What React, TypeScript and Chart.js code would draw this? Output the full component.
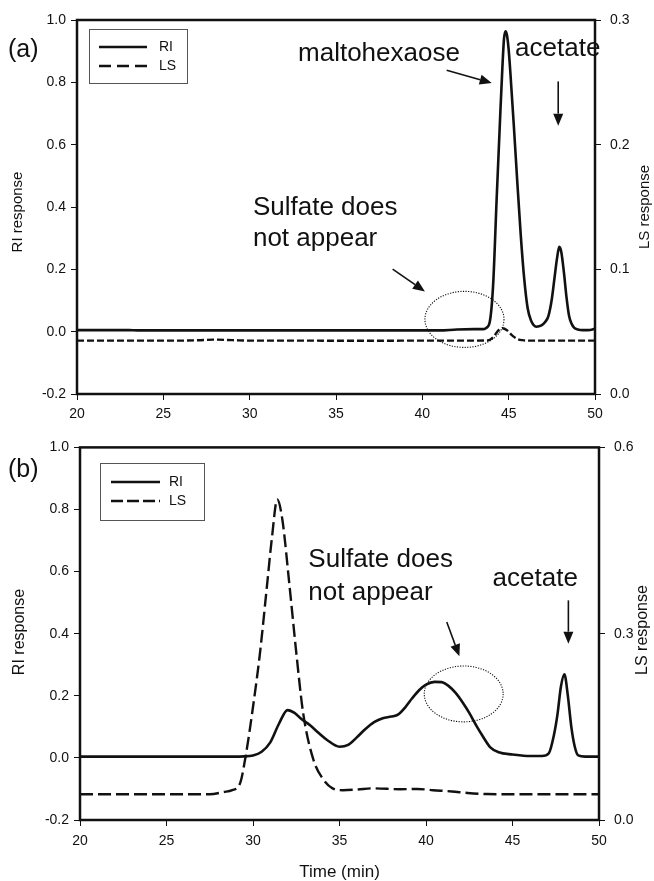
import { useEffect, useRef } from "react";
import { Chart, registerables } from "chart.js";

Chart.register(...registerables);

const FONT = "'Liberation Sans', Arial, Helvetica, sans-serif";

// ---------------- Data: panel (a) ----------------
const timeA_RI = [20, 22, 23, 23.5, 24, 26, 28, 30, 32, 34, 36, 38, 40, 41, 42, 43, 43.5, 43.7, 43.9, 44.1, 44.3, 44.5, 44.63, 44.73, 44.82, 44.9, 45.0, 45.1, 45.3, 45.5, 45.7, 45.9, 46.1, 46.3, 46.6, 46.9, 47.1, 47.3, 47.5, 47.65, 47.8, 47.93, 48.05, 48.2, 48.35, 48.5, 48.65, 48.8, 49.0, 49.3, 49.6, 49.85, 50];
const riA = [0.005, 0.005, 0.005, 0.004, 0.004, 0.004, 0.004, 0.004, 0.004, 0.004, 0.004, 0.004, 0.004, 0.004, 0.007, 0.008, 0.008, 0.012, 0.03, 0.15, 0.42, 0.68, 0.84, 0.94, 0.964, 0.952, 0.905, 0.83, 0.66, 0.48, 0.31, 0.17, 0.075, 0.035, 0.016, 0.02, 0.03, 0.05, 0.105, 0.17, 0.235, 0.272, 0.255, 0.19, 0.11, 0.05, 0.025, 0.012, 0.007, 0.005, 0.005, 0.007, 0.01];
const timeA_LS = [20, 24, 26, 27, 28, 29, 30, 33, 36, 40, 43, 43.8, 44.1, 44.4, 44.65, 44.9, 45.2, 45.5, 45.8, 46.3, 48, 50];
const lsA = [0.0428, 0.0428, 0.0428, 0.0431, 0.0436, 0.0432, 0.0428, 0.0428, 0.0427, 0.0428, 0.0428, 0.043, 0.0455, 0.051, 0.0528, 0.0512, 0.047, 0.0442, 0.0432, 0.0428, 0.0428, 0.0428];

// ---------------- Data: panel (b) ----------------
const timeB_RI = [20, 24, 28, 29.5, 30, 30.5, 31, 31.5, 32, 32.4, 32.8, 33.3, 33.8, 34.3, 35, 35.5, 36, 36.5, 37, 37.5, 38, 38.4, 38.8, 39.2, 39.6, 40, 40.5, 40.9, 41.3, 41.7, 42.1, 42.5, 42.9, 43.3, 43.7, 44.2, 45, 46, 46.7, 47.1, 47.4, 47.6, 47.8, 48.0, 48.2, 48.4, 48.6, 48.8, 49.2, 50];
const riB = [0.004, 0.004, 0.004, 0.005, 0.008, 0.02, 0.05, 0.11, 0.154, 0.145, 0.125, 0.105, 0.08, 0.057, 0.036, 0.042, 0.066, 0.093, 0.115, 0.128, 0.133, 0.14, 0.163, 0.192, 0.218, 0.236, 0.245, 0.244, 0.232, 0.21, 0.18, 0.145, 0.105, 0.068, 0.035, 0.018, 0.011, 0.006, 0.006, 0.015, 0.075, 0.14, 0.23, 0.269, 0.2, 0.1, 0.036, 0.008, 0.004, 0.004];
const timeB_LS = [20, 25, 27.5, 28.3, 28.8, 29.25, 29.6, 30.0, 30.4, 30.8, 31.1, 31.4, 31.7, 32.1, 32.5, 32.9, 33.5, 34.1, 34.6, 35.2, 36, 37, 38.5, 39.5, 40.4, 41.5, 42.4, 43.5, 45, 50];
const lsB = [0.0414, 0.0414, 0.0414, 0.045, 0.048, 0.059, 0.107, 0.182, 0.268, 0.375, 0.456, 0.516, 0.483, 0.38, 0.27, 0.172, 0.0965, 0.064, 0.051, 0.048, 0.049, 0.051, 0.0495, 0.05, 0.048, 0.046, 0.0435, 0.0418, 0.0414, 0.0414];

// ---------------- Axes / tick labels ----------------
const xRange = [20, 50];
const xStep = 5;
const riRange = [-0.2, 1.0];
const riStep = 0.2;
const lsRangeA = [0, 0.3];
const lsStepA = 0.1;
const lsRangeB = [0, 0.6];
const lsStepB = 0.3;

const seriesNames = ["RI", "LS"];
const axisTitles = { ri: "RI response", ls: "LS response", x: "Time (min)" };

type Ann =
  | { kind: "text"; lines: string[]; t: number; v: number; lineGap: number; size: number }
  | { kind: "arrow"; t1: number; v1: number; t2: number; v2: number }
  | { kind: "ellipse"; t: number; v: number; rt: number; rv: number };

const annotationsA: Ann[] = [
  { kind: "text", lines: ["maltohexaose"], t: 32.8, v: 0.87, lineGap: 0, size: 26 },
  { kind: "text", lines: ["acetate"], t: 45.37, v: 0.886, lineGap: 0, size: 26 },
  { kind: "arrow", t1: 41.41, v1: 0.839, t2: 44.02, v2: 0.798 },
  { kind: "arrow", t1: 47.87, v1: 0.803, t2: 47.87, v2: 0.661 },
  { kind: "text", lines: ["Sulfate does", "not appear"], t: 30.19, v: 0.375, lineGap: 31.7, size: 26 },
  { kind: "arrow", t1: 38.28, v1: 0.2006, t2: 40.15, v2: 0.1287 },
  { kind: "ellipse", t: 42.44, v: 0.0394, rt: 2.29, rv: 0.09 },
];

const annotationsB: Ann[] = [
  { kind: "text", lines: ["Sulfate does", "not appear"], t: 33.2, v: 0.6145, lineGap: 32.6, size: 26 },
  { kind: "text", lines: ["acetate"], t: 43.85, v: 0.5524, lineGap: 0, size: 26 },
  { kind: "arrow", t1: 41.2, v1: 0.4376, t2: 41.93, v2: 0.3273 },
  { kind: "arrow", t1: 48.23, v1: 0.5074, t2: 48.23, v2: 0.368 },
  { kind: "ellipse", t: 42.18, v: 0.206, rt: 2.28, rv: 0.09 },
];

interface PanelSpec {
  label: string;
  height: number;
  top: number;
  area: { left: number; right: number; top: number; bottom: number };
  xPad: number;
  riT: number[];
  ri: number[];
  lsT: number[];
  ls: number[];
  lsRange: number[];
  lsStep: number;
  dash: number[];
  legendDash: number[];
  labelPos: { x: number; y: number; size: number };
  riTitle: { x: number; y: number; size: number };
  lsTitle: { x: number; y: number; size: number };
  xTitle: { x: number; y: number; size: number } | null;
  legend: { x1: number; y1: number; x2: number; y2: number; lx1: number; lx2: number; yRI: number; yLS: number; tx: number };
  anns: Ann[];
}

const W = 654;

const panels: PanelSpec[] = [
  {
    label: "(a)",
    height: 430,
    top: 0,
    area: { left: 77, right: 595, top: 20, bottom: 394 },
    xPad: 6,
    riT: timeA_RI,
    ri: riA,
    lsT: timeA_LS,
    ls: lsA,
    lsRange: lsRangeA,
    lsStep: lsStepA,
    dash: [7, 3],
    legendDash: [12, 6],
    labelPos: { x: 8, y: 56.5, size: 25 },
    riTitle: { x: 18, y: 212, size: 15 },
    lsTitle: { x: 645, y: 207, size: 15 },
    xTitle: null,
    legend: { x1: 89, y1: 29, x2: 187, y2: 83, lx1: 99, lx2: 147, yRI: 47, yLS: 66, tx: 159 },
    anns: annotationsA,
  },
  {
    label: "(b)",
    height: 451,
    top: 430,
    area: { left: 80, right: 599, top: 17, bottom: 390 },
    xPad: 7,
    riT: timeB_RI,
    ri: riB,
    lsT: timeB_LS,
    ls: lsB,
    lsRange: lsRangeB,
    lsStep: lsStepB,
    dash: [13, 5],
    legendDash: [12, 4],
    labelPos: { x: 8, y: 46.5, size: 25 },
    riTitle: { x: 20, y: 202, size: 16 },
    lsTitle: { x: 643, y: 200, size: 16 },
    xTitle: { x: 339.5, y: 446.5, size: 17 },
    legend: { x1: 100, y1: 33, x2: 204, y2: 90, lx1: 111, lx2: 160, yRI: 52, yLS: 71, tx: 169 },
    anns: annotationsB,
  },
];

const fmt1 = (v: any) => {
  const n = Number(v);
  return (Math.abs(n) < 1e-9 ? 0 : n).toFixed(1);
};

function drawArrow(ctx: CanvasRenderingContext2D, x1: number, y1: number, x2: number, y2: number) {
  const ang = Math.atan2(y2 - y1, x2 - x1);
  const len = 12;
  const hw = 5;
  const bx = x2 - len * Math.cos(ang);
  const by = y2 - len * Math.sin(ang);
  ctx.save();
  ctx.strokeStyle = "#111";
  ctx.fillStyle = "#111";
  ctx.lineWidth = 1.6;
  ctx.setLineDash([]);
  ctx.beginPath();
  ctx.moveTo(x1, y1);
  ctx.lineTo(bx, by);
  ctx.stroke();
  ctx.beginPath();
  ctx.moveTo(x2, y2);
  ctx.lineTo(bx + hw * Math.sin(ang), by - hw * Math.cos(ang));
  ctx.lineTo(bx - hw * Math.sin(ang), by + hw * Math.cos(ang));
  ctx.closePath();
  ctx.fill();
  ctx.restore();
}

function makeDecorPlugin(p: PanelSpec) {
  return {
    id: "decor" + p.label,
    afterDraw(chart: any) {
      const ctx: CanvasRenderingContext2D = chart.ctx;
      const xs = chart.scales.x;
      const ys = chart.scales.y;
      const ca = chart.chartArea;
      ctx.save();
      // frame
      ctx.strokeStyle = "#111";
      ctx.lineWidth = 2.5;
      ctx.setLineDash([]);
      ctx.strokeRect(ca.left, ca.top, ca.right - ca.left, ca.bottom - ca.top);

      ctx.fillStyle = "#111";
      // panel label
      ctx.font = `${p.labelPos.size}px ${FONT}`;
      ctx.textAlign = "left";
      ctx.textBaseline = "alphabetic";
      ctx.fillText(p.label, p.labelPos.x, p.labelPos.y);

      // axis titles (both read bottom-to-top)
      const vTitle = (txt: string, pos: { x: number; y: number; size: number }) => {
        ctx.save();
        ctx.translate(pos.x, pos.y);
        ctx.rotate(-Math.PI / 2);
        ctx.font = `${pos.size}px ${FONT}`;
        ctx.textAlign = "center";
        ctx.textBaseline = "middle";
        ctx.fillText(txt, 0, 0);
        ctx.restore();
      };
      vTitle(axisTitles.ri, p.riTitle);
      vTitle(axisTitles.ls, p.lsTitle);
      if (p.xTitle) {
        ctx.font = `${p.xTitle.size}px ${FONT}`;
        ctx.textAlign = "center";
        ctx.textBaseline = "alphabetic";
        ctx.fillText(axisTitles.x, p.xTitle.x, p.xTitle.y);
      }

      // legend
      const L = p.legend;
      ctx.strokeStyle = "#555";
      ctx.lineWidth = 1;
      ctx.strokeRect(L.x1 + 0.5, L.y1 + 0.5, L.x2 - L.x1, L.y2 - L.y1);
      ctx.strokeStyle = "#111";
      ctx.lineWidth = 2.5;
      ctx.beginPath();
      ctx.moveTo(L.lx1, L.yRI);
      ctx.lineTo(L.lx2, L.yRI);
      ctx.stroke();
      ctx.setLineDash(p.legendDash);
      ctx.beginPath();
      ctx.moveTo(L.lx1, L.yLS);
      ctx.lineTo(L.lx2, L.yLS);
      ctx.stroke();
      ctx.setLineDash([]);
      ctx.font = `14px ${FONT}`;
      ctx.textAlign = "left";
      ctx.textBaseline = "middle";
      ctx.fillText(seriesNames[0], L.tx, L.yRI);
      ctx.fillText(seriesNames[1], L.tx, L.yLS);

      // annotations
      for (const a of p.anns) {
        if (a.kind === "text") {
          ctx.font = `${a.size}px ${FONT}`;
          ctx.textAlign = "left";
          ctx.textBaseline = "alphabetic";
          const x = xs.getPixelForValue(a.t);
          const y = ys.getPixelForValue(a.v);
          a.lines.forEach((ln, i) => ctx.fillText(ln, x, y + i * a.lineGap));
        } else if (a.kind === "arrow") {
          drawArrow(ctx, xs.getPixelForValue(a.t1), ys.getPixelForValue(a.v1), xs.getPixelForValue(a.t2), ys.getPixelForValue(a.v2));
        } else {
          const cx = xs.getPixelForValue(a.t);
          const cy = ys.getPixelForValue(a.v);
          const rx = Math.abs(xs.getPixelForValue(a.t + a.rt) - cx);
          const ry = Math.abs(ys.getPixelForValue(a.v + a.rv) - cy);
          ctx.save();
          ctx.strokeStyle = "#111";
          ctx.lineWidth = 1.1;
          ctx.setLineDash([1.2, 1.4]);
          ctx.beginPath();
          ctx.ellipse(cx, cy, rx, ry, 0, 0, Math.PI * 2);
          ctx.stroke();
          ctx.restore();
        }
      }
      ctx.restore();
    },
  };
}

function Panel({ spec }: { spec: PanelSpec }) {
  const ref = useRef<HTMLCanvasElement | null>(null);
  useEffect(() => {
    if (!ref.current) return;
    const p = spec;
    const tickFont = { family: FONT, size: 14 };
    const chart = new Chart(ref.current, {
      type: "line",
      data: {
        datasets: [
          {
            label: seriesNames[0],
            data: p.riT.map((t, i) => ({ x: t, y: p.ri[i] })),
            yAxisID: "y",
            borderColor: "#111",
            borderWidth: 2.6,
            pointRadius: 0,
            cubicInterpolationMode: "monotone",
            fill: false,
          },
          {
            label: seriesNames[1],
            data: p.lsT.map((t, i) => ({ x: t, y: p.ls[i] })),
            yAxisID: "y1",
            borderColor: "#111",
            borderWidth: 2.4,
            borderDash: p.dash,
            pointRadius: 0,
            cubicInterpolationMode: "monotone",
            fill: false,
          },
        ],
      },
      options: {
        responsive: false,
        animation: false,
        devicePixelRatio: 1,
        layout: { padding: { top: p.area.top, left: 0, right: 0, bottom: 0 } },
        plugins: { legend: { display: false }, tooltip: { enabled: false } },
        events: [],
        scales: {
          x: {
            type: "linear",
            min: xRange[0],
            max: xRange[1],
            ticks: { stepSize: xStep, font: tickFont, color: "#111", padding: p.xPad, maxRotation: 0 },
            grid: { drawOnChartArea: false, drawTicks: true, tickLength: 6, tickColor: "#111", tickWidth: 1 },
            border: { display: false },
            afterFit: (s: any) => {
              s.height = p.height - p.area.bottom;
            },
          },
          y: {
            type: "linear",
            position: "left",
            min: riRange[0],
            max: riRange[1],
            ticks: { stepSize: riStep, font: tickFont, color: "#111", padding: 5, callback: fmt1 },
            grid: { drawOnChartArea: false, drawTicks: true, tickLength: 6, tickColor: "#111", tickWidth: 1 },
            border: { display: false },
            afterFit: (s: any) => {
              s.width = p.area.left;
            },
          },
          y1: {
            type: "linear",
            position: "right",
            min: p.lsRange[0],
            max: p.lsRange[1],
            ticks: { stepSize: p.lsStep, font: tickFont, color: "#111", padding: 9, callback: fmt1 },
            grid: { drawOnChartArea: false, drawTicks: true, tickLength: 6, tickColor: "#111", tickWidth: 1 },
            border: { display: false },
            afterFit: (s: any) => {
              s.width = W - p.area.right;
            },
          },
        },
      } as any,
      plugins: [makeDecorPlugin(p)],
    });
    return () => chart.destroy();
  }, [spec]);
  return (
    <canvas
      ref={ref}
      width={W}
      height={spec.height}
      style={{ position: "absolute", left: 0, top: spec.top, width: W, height: spec.height, display: "block" }}
    />
  );
}

export default function App() {
  return (
    <div style={{ position: "absolute", left: 0, top: 0, width: W, height: 881, background: "#fff", overflow: "hidden" }}>
      {panels.map((p) => (
        <Panel key={p.label} spec={p} />
      ))}
    </div>
  );
}
